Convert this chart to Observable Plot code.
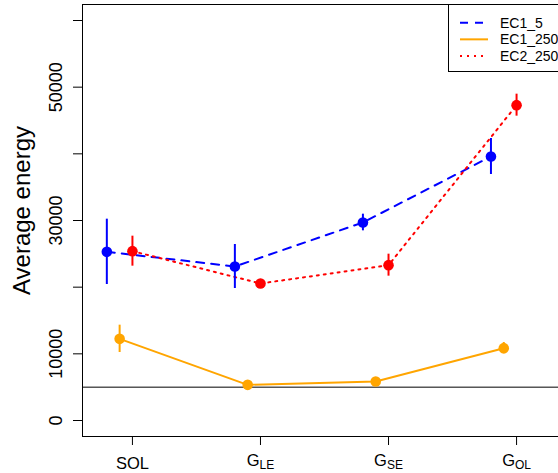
<!DOCTYPE html>
<html><head><meta charset="utf-8">
<script src="https://cdn.jsdelivr.net/npm/d3@7"></script>
<script src="https://cdn.jsdelivr.net/npm/@observablehq/plot@0.6"></script>
<style>
body{margin:0;background:#fff;}
#wrap{width:558px;height:473px;overflow:hidden;position:relative;background:#fff;}
#wrap svg{max-width:none !important;width:600px;height:473px;}
</style></head><body><div id="wrap"></div>
<script>
// ---- data ----
const categories = ["SOL", "G_LE", "G_SE", "G_OL"];
const seriesNames = ["EC1_5", "EC1_250", "EC2_250"];
const ec1_5 = [25300, 23100, 29700, 39600];
const ec1_5Err = [4900, 3300, 1250, 2700];
const ec1_250 = [12250, 5350, 5850, 10850];
const ec1_250Err = [2050, 350, 350, 850];
const ec2_250 = [25400, 20550, 23300, 47300];
const ec2_250Err = [2250, 450, 1650, 1650];
const yTicks = [0, 10000, 20000, 30000, 40000, 50000, 60000];
const yTickLabels = [0, 10000, 30000, 50000];
const refLine = 5000;

// ---- style ----
const seriesColors = ["#0000FF", "#FFA500", "#FF0000"];
const seriesDash = ["8 7", null, "2 5"];
const seriesDodge = [-0.2, -0.1, 0];
const font = "'Liberation Sans', Arial, Helvetica, sans-serif";

const values = [ec1_5, ec1_250, ec2_250];
const errs = [ec1_5Err, ec1_250Err, ec2_250Err];
const rows = [];
seriesNames.forEach((s, si) => {
  categories.forEach((c, ci) => {
    rows.push({series: s, si, cat: c, x: ci + 1 + seriesDodge[si], y: values[si][ci],
      lo: values[si][ci] - errs[si][ci], hi: values[si][ci] + errs[si][ci]});
  });
});

const seriesMarks = [];
seriesNames.forEach((s, si) => {
  const d = rows.filter(r => r.si === si);
  seriesMarks.push(Plot.line(d, {x: "x", y: "y", stroke: seriesColors[si], strokeWidth: 2,
    strokeDasharray: seriesDash[si] || undefined}));
});
seriesNames.forEach((s, si) => {
  const d = rows.filter(r => r.si === si);
  seriesMarks.push(Plot.ruleX(d, {x: "x", y1: "lo", y2: "hi", stroke: seriesColors[si], strokeWidth: 2}));
  seriesMarks.push(Plot.dot(d, {x: "x", y: "y", r: 5.3, fill: seriesColors[si], stroke: "none"}));
});

const chart = Plot.plot({
  width: 600, height: 473,
  marginLeft: 82, marginRight: 34, marginTop: 4, marginBottom: 37,
  style: {fontFamily: font, background: "white", color: "black", maxWidth: "none"},
  x: {type: "linear", domain: [0.61, 4.39]},
  y: {domain: [-2400, 62400]},
  marks: [
    Plot.ruleY([refLine], {stroke: "black", strokeWidth: 1}),
    ...seriesMarks,
    Plot.frame({stroke: "black"}),
    Plot.axisY({ticks: yTicks, tickSize: 9, tickFormat: () => "", label: null}),
    Plot.text(yTickLabels, {y: d => d, text: d => String(d), frameAnchor: "left", textAnchor: "middle", lineAnchor: "middle", rotate: -90, dx: -26.5, fontSize: 18, fill: "black"}),
    Plot.text(["Average energy"], {frameAnchor: "left", textAnchor: "middle", lineAnchor: "middle", rotate: -90, dx: -60.5, dy: -10, fontSize: 24, fill: "black"}),
    Plot.axisX({ticks: [1, 2, 3, 4], tickSize: 9, tickPadding: 11.7, tickFormat: d => categories[d - 1], fontSize: 16.5, label: null})
  ]
});
document.getElementById("wrap").appendChild(chart);

// subscripts on x tick labels
d3.select(chart).selectAll('g[aria-label="x-axis tick label"] text').each(function() {
  const t = this.textContent;
  if (t.includes("_")) {
    const [base, sub] = t.split("_");
    const el = d3.select(this);
    el.text("");
    el.append("tspan").attr("dy", "-3").text(base);
    el.append("tspan").attr("dy", "3.5").attr("font-size", 12).text(sub);
  }
});

// legend (top-right inside plot)
const svg = d3.select(chart);
const lg = svg.append("g").attr("font-family", font).attr("text-anchor", "start");
lg.append("rect").attr("x", 448.5).attr("y", 4.5).attr("width", 200).attr("height", 67)
  .attr("fill", "white").attr("stroke", "black");
seriesNames.forEach((n, i) => {
  const y = 22.7 + i * 16.65;
  const ln = lg.append("line").attr("x1", 460).attr("x2", 488).attr("y1", y).attr("y2", y)
    .attr("stroke", seriesColors[i]).attr("stroke-width", 2);
  if (seriesDash[i]) ln.attr("stroke-dasharray", seriesDash[i]);
  lg.append("text").attr("x", 500).attr("y", y).attr("dy", "0.35em").attr("font-size", 14)
    .attr("fill", "black").attr("text-anchor", "start").text(n);
});
</script></body></html>
